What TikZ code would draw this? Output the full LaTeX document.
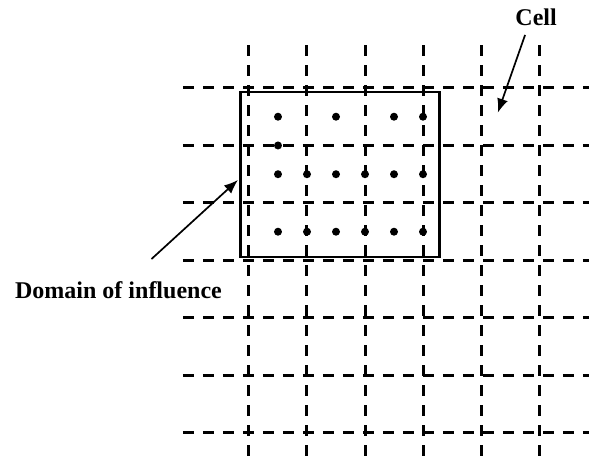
\documentclass[tikz,border=0pt]{standalone}
\usepackage{fontspec}
\setmainfont{Liberation Serif}
\usetikzlibrary{arrows.meta}
\tikzset{
  gridline/.style={line width=3bp,dash pattern=on 11bp off 9bp},
  lbl/.style={font=\fontsize{24bp}{28bp}\selectfont\bfseries,inner sep=0pt}
}
\begin{document}
\begin{tikzpicture}[x=58bp,y=57.5bp,>={Latex[length=14bp,width=11bp]}]
\useasboundingbox (-4.293,-0.452) rectangle (5.862,7.53);
% Cell grid
\foreach \i in {0,...,5} \draw[gridline] (\i,-0.4) -- (\i,6.87);
\foreach \j in {0,...,6} \draw[gridline] (-1.14,\j) -- (5.86,\j);
% Domain of influence
\draw[line width=2.8bp] (-0.14,3.06) rectangle (3.28,5.93);
% Points inside the domain
\foreach \x/\y in {0.5/5.5,1.5/5.5,2.5/5.5,3/5.5,0.5/5,
  0.5/4.5,1/4.5,1.5/4.5,2/4.5,2.5/4.5,3/4.5,
  0.5/3.5,1/3.5,1.5/3.5,2/3.5,2.5/3.5,3/3.5}
  \fill (\x,\y) circle (4bp);
% Labels and arrows
\node[lbl] (dom) at (-2.25,2.49) {Domain of influence};
\node[lbl] (cell) at (4.95,7.23) {Cell};
\coordinate (domtip) at (-0.19,4.4);
\coordinate (celltip) at (4.29,5.57);
\draw[->,line width=1.7bp] ([xshift=33bp,yshift=22bp]dom.north) -- (domtip);
\draw[->,line width=1.7bp] ([xshift=-11bp,yshift=-9bp]cell.south) -- (celltip);
\end{tikzpicture}
\end{document}
